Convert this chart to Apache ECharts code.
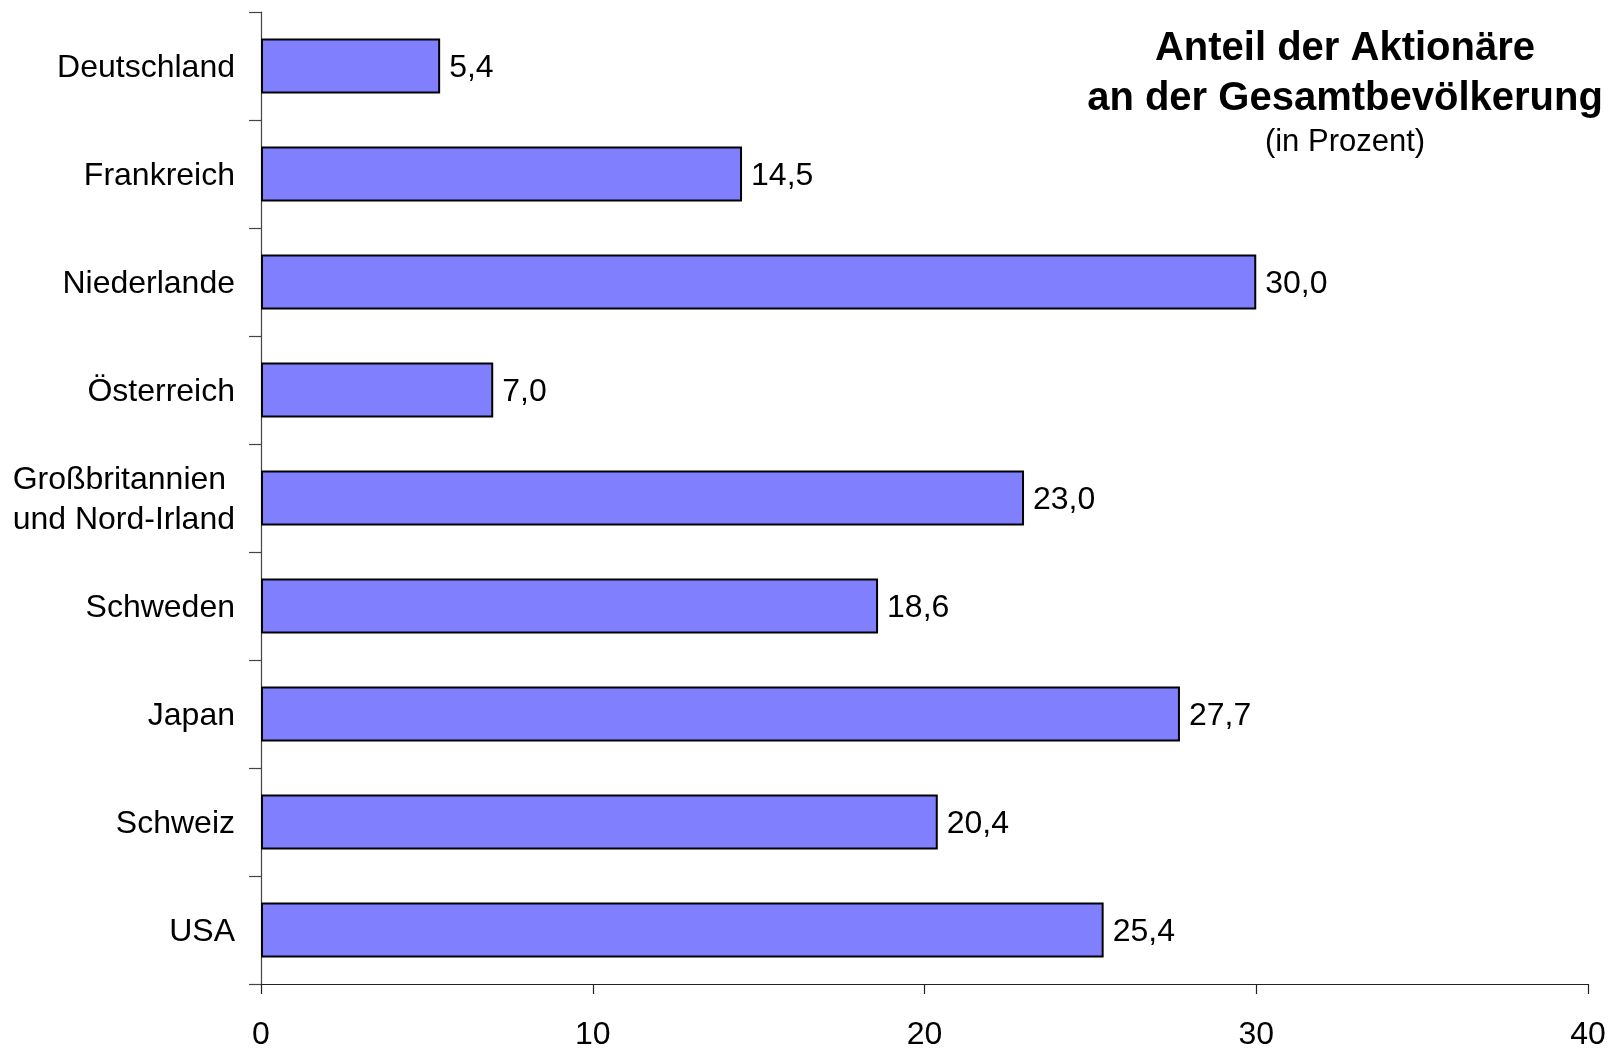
<!DOCTYPE html>
<html>
<head>
<meta charset="utf-8">
<title>Anteil der Aktionäre an der Gesamtbevölkerung</title>
<script src="https://cdn.jsdelivr.net/npm/echarts@6/dist/echarts.min.js"></script>
<style>
  html, body { margin: 0; padding: 0; background: #ffffff; }
  #chart { width: 1622px; height: 1051px; }
</style>
</head>
<body>
<div id="chart"></div>
<script>
// Länder (von oben nach unten) und Aktionärsanteil in Prozent
const countries = [
  'Deutschland',
  'Frankreich',
  'Niederlande',
  'Österreich',
  'Großbritannien\nund Nord-Irland',
  'Schweden',
  'Japan',
  'Schweiz',
  'USA'
];
const shareValues = [5.4, 14.5, 30.0, 7.0, 23.0, 18.6, 27.7, 20.4, 25.4];

const titleLines = ['Anteil der Aktionäre', 'an der Gesamtbevölkerung'];
const subtitleText = '(in Prozent)';

const FONT = '"Liberation Sans", Arial, sans-serif';
const fmtComma = v => Number(v).toFixed(1).replace('.', ',');

// mehrzeilige Kategorienamen: Block rechtsbündig, Zeilen darin linksbündig
const categoryLabel = name => name.split('\n').map(line => '{l|' + line + '}').join('\n');

const chart = echarts.init(document.getElementById('chart'), null, { renderer: 'canvas' });

chart.setOption({
  backgroundColor: '#ffffff',
  animation: false,
  textStyle: { fontFamily: FONT },
  title: {
    text: titleLines.join('\n'),
    subtext: subtitleText,
    left: 1345,
    top: 24,
    padding: 0,
    itemGap: 0,
    textAlign: 'center',
    textStyle: {
      fontFamily: FONT,
      fontSize: 40,
      fontWeight: 'bold',
      color: '#000000',
      lineHeight: 50
    },
    subtextStyle: {
      fontFamily: FONT,
      fontSize: 31,
      color: '#000000',
      lineHeight: 36
    }
  },
  grid: {
    left: 261,
    right: 34,
    top: 12,
    bottom: 67,
    containLabel: false
  },
  xAxis: {
    type: 'value',
    min: 0,
    max: 40,
    interval: 10,
    splitLine: { show: false },
    axisLine: { show: true, lineStyle: { color: '#222222', width: 1.2 } },
    axisTick: { show: true, inside: false, length: 10, lineStyle: { color: '#222222', width: 1.2 } },
    axisLabel: {
      margin: 35,
      fontFamily: FONT,
      fontSize: 32,
      color: '#000000'
    }
  },
  yAxis: {
    type: 'category',
    inverse: true,
    data: countries,
    boundaryGap: true,
    axisLine: { show: true, lineStyle: { color: '#444444', width: 1.2 } },
    axisTick: { show: true, inside: false, length: 12, alignWithLabel: false, lineStyle: { color: '#444444', width: 1.2 } },
    axisLabel: {
      margin: 26,
      fontFamily: FONT,
      fontSize: 32,
      lineHeight: 40,
      color: '#000000',
      align: 'right',
      padding: [4, 0, 0, 0],
      formatter: categoryLabel,
      rich: {
        l: {
          fontFamily: FONT,
          fontSize: 32,
          lineHeight: 40,
          color: '#000000',
          align: 'left'
        }
      }
    },
    splitLine: { show: false }
  },
  series: [{
    type: 'bar',
    data: shareValues,
    barWidth: '51%',
    itemStyle: {
      color: '#8080ff',
      borderColor: '#000000',
      borderWidth: 2
    },
    label: {
      show: true,
      position: 'right',
      distance: 9,
      offset: [0, 2],
      fontFamily: FONT,
      fontSize: 32,
      color: '#000000',
      formatter: p => fmtComma(p.value)
    }
  }]
});
</script>
</body>
</html>
